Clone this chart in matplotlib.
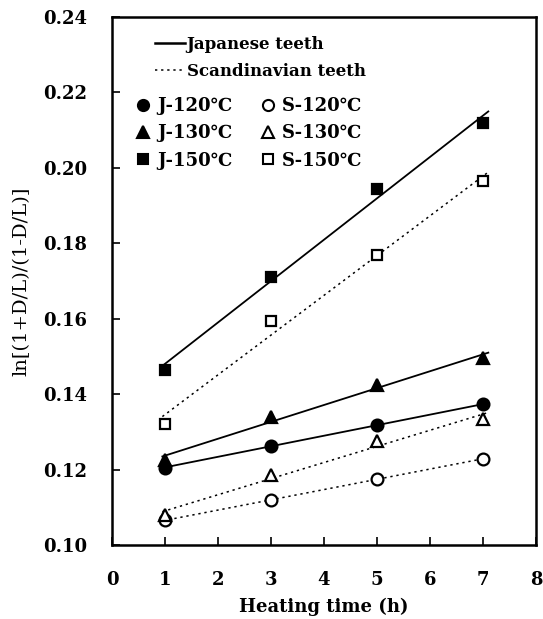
import numpy as np
import matplotlib
matplotlib.use("Agg")
import matplotlib.pyplot as plt
from matplotlib.lines import Line2D

plt.rcParams['font.family'] = ['DejaVu Serif', 'Liberation Serif']

# heating time (h)
hours = [1, 3, 5, 7]

# ln[(1+D/L)/(1-D/L)]
j120 = [0.1205, 0.1263, 0.1318, 0.1373]
j130 = [0.1225, 0.1340, 0.1425, 0.1495]
j150 = [0.1465, 0.1710, 0.1945, 0.2118]
s120 = [0.1065, 0.1120, 0.1175, 0.1228]
s130 = [0.1080, 0.1185, 0.1275, 0.1335]
s150 = [0.1320, 0.1595, 0.1768, 0.1965]

series = [
    ("J-120℃", j120, "o", True),
    ("J-130℃", j130, "^", True),
    ("J-150℃", j150, "s", True),
    ("S-120℃", s120, "o", False),
    ("S-130℃", s130, "^", False),
    ("S-150℃", s150, "s", False),
]

W, H = 543, 619
fig = plt.figure(figsize=(W / 100, H / 100), dpi=100)
ax = fig.add_axes([112 / W, 1 - 545 / H, (536 - 112) / W, (545 - 17) / H])

dots = (0, (1.5, 2.5))
xfit = np.array([0.95, 7.1])
handles = []
for name, ys, mk, japanese in series:
    k, b = np.polyfit(hours, ys, 1)
    ax.plot(xfit, k * xfit + b, color="black",
            ls="-" if japanese else dots, lw=1.3 if japanese else 1.1)
    ax.plot(hours, ys, ls="none", marker=mk, ms=8.5 if mk != "s" else 7.5,
            mfc="black" if japanese else "white", mec="black", mew=1.6)
    handles.append(Line2D([], [], ls="none", marker=mk, ms=8 if mk != "s" else 7,
                          mfc="black" if japanese else "white", mec="black",
                          mew=1.5, label=name))

ax.set_xlim(0, 8)
ax.set_ylim(0.10, 0.24)
ax.set_xticks(range(0, 9))
ax.set_yticks(np.arange(0.10, 0.2401, 0.02))
ax.yaxis.set_major_formatter(matplotlib.ticker.FormatStrFormatter("%.2f"))
ax.tick_params(direction="in", length=6, width=1.2, labelsize=13)
ax.tick_params(axis="y", pad=18)
ax.tick_params(axis="x", pad=19)
for lab in ax.get_xticklabels() + ax.get_yticklabels():
    lab.set_fontweight("bold")
for sp in ax.spines.values():
    sp.set_linewidth(1.8)

ax.set_xlabel("Heating time (h)", fontsize=13, fontweight="bold", labelpad=6)
ax.set_ylabel("ln[(1+D/L)/(1-D/L)]", fontsize=14, labelpad=9)

line_handles = [
    Line2D([], [], color="black", ls="-", lw=1.8, label="Japanese teeth"),
    Line2D([], [], color="black", ls=dots, lw=1.1, label="Scandinavian teeth"),
]
fs1 = 12
fig.legend(handles=line_handles, loc="upper left",
           bbox_to_anchor=(155 / W, 1 - 36 / H), borderpad=0, borderaxespad=0,
           frameon=False, handlelength=30 / (fs1 * 1.389), handletextpad=0.1,
           labelspacing=0.58, prop={"weight": "bold", "size": fs1})
fs2 = 13
fig.legend(handles=handles, loc="upper left",
           bbox_to_anchor=(135 / W, 1 - 97 / H), borderpad=0, borderaxespad=0,
           frameon=False, ncol=2, handlelength=16 / (fs2 * 1.389),
           handletextpad=6 / (fs2 * 1.389), columnspacing=28 / (fs2 * 1.389),
           labelspacing=0.52, prop={"weight": "bold", "size": fs2})

fig.savefig("out.png", dpi=100)
